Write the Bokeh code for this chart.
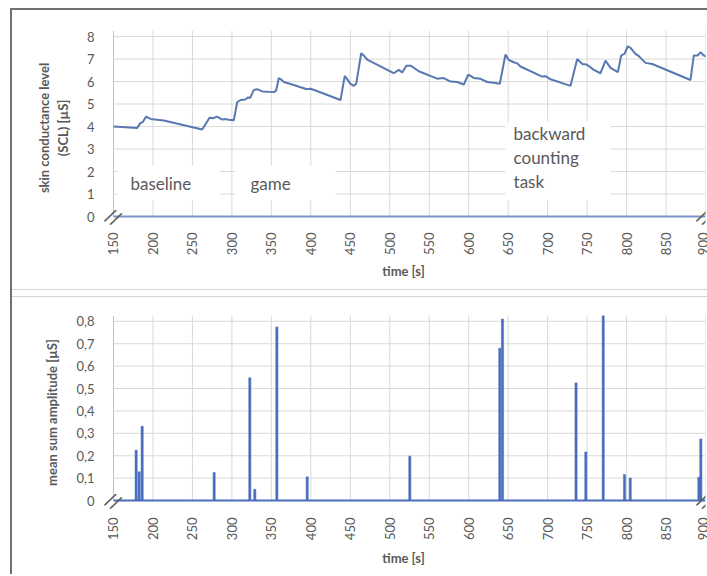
from math import pi
from bokeh.plotting import figure
from bokeh.layouts import column
from bokeh.models import FixedTicker, Label, Range1d
from bokeh.embed import file_html
from bokeh.resources import INLINE

# ---------------- data ----------------
x_ticks = [150, 200, 250, 300, 350, 400, 450, 500, 550, 600, 650, 700, 750, 800, 850, 900]

scl_time = [150, 180, 184, 187, 191.4, 197, 213.7, 262.4,
            271.6, 275.8, 281.4, 287.7, 292, 296, 302.4,
            306.7, 311, 317, 320.7, 323, 327.8, 332, 338.4,
            353, 356, 359.5, 362, 365.8, 376.4, 387, 395.4, 399.6, 406,
            437.6, 443, 450.3, 454.5, 457.5, 463.8, 467, 471.4,
            505, 511.5, 515.7, 521, 527, 536.8,
            560, 567.7, 577, 585.4, 593.8, 599.4, 606.5, 615, 623.5, 631.8, 639.4,
            646.6, 650.8, 657.2, 661.4, 665.6,
            693, 697.3, 703.7, 729, 737.5, 743.8, 749.3, 758.5, 767, 773.3, 779.7, 789,
            793.2, 797.4, 801.6, 805, 811.3, 815.5, 824, 832.5,
            881, 885.2, 890, 893.6, 897.9, 902]
scl_value = [4.0, 3.94, 4.15, 4.2, 4.44, 4.34, 4.27, 3.87,
             4.39, 4.37, 4.44, 4.31, 4.33, 4.3, 4.28,
             5.08, 5.18, 5.2, 5.3, 5.26, 5.63, 5.66, 5.56,
             5.53, 5.6, 6.16, 6.1, 5.98, 5.87, 5.75, 5.66, 5.68, 5.6,
             5.18, 6.25, 5.9, 5.81, 5.9, 7.26, 7.16, 6.98,
             6.37, 6.52, 6.4, 6.7, 6.7, 6.46,
             6.13, 6.16, 6.0, 5.98, 5.87, 6.31, 6.16, 6.12, 5.98, 5.95, 5.9,
             7.2, 6.96, 6.86, 6.81, 6.67,
             6.22, 6.24, 6.1, 5.81, 7.0, 6.78, 6.76, 6.52, 6.37, 6.93, 6.61, 6.42,
             7.16, 7.23, 7.57, 7.5, 7.23, 7.13, 6.83, 6.78,
             6.07, 7.16, 7.16, 7.3, 7.16, 7.1]
scl_ticks = [0, 1, 2, 3, 4, 5, 6, 7, 8]

amp_time = [178.7, 182.5, 186.3, 277.5, 322.7, 329, 357, 395.4, 525.4,
            639.4, 642.8, 736, 748.4, 770.4, 797.4, 804.6, 891.6, 894.1]
amp_value = [0.225, 0.128, 0.332, 0.125, 0.548, 0.05, 0.775, 0.106, 0.198,
             0.68, 0.81, 0.525, 0.217, 0.826, 0.116, 0.101, 0.104, 0.275]
amp_ticks = [0, 0.1, 0.2, 0.3, 0.4, 0.5, 0.6, 0.7, 0.8]
amp_tick_labels = ["0", "0,1", "0,2", "0,3", "0,4", "0,5", "0,6", "0,7", "0,8"]

phase_labels = ["baseline", "game", "backward", "counting", "task"]

# ---------------- style ----------------
FONT = "Lato"
TXT = "#595959"
GRID = "#d9d9d9"
LINE = "#5878b2"
BAR = "#4a6dbf"
XMIN, XMAX = x_ticks[0], x_ticks[-1]
PAD_X = 15.2          # small room left of the axis for the break mark


def base_figure(height, yticks, ymax, pad_y, border_top, border_bottom, xaxis_color):
    p = figure(width=695, height=height, output_backend="svg", toolbar_location=None,
               x_range=Range1d(XMIN - PAD_X, XMAX), y_range=Range1d(-pad_y, ymax),
               min_border_left=89, min_border_right=2,
               min_border_top=border_top, min_border_bottom=border_bottom)
    p.outline_line_color = None
    p.background_fill_color = "white"
    p.border_fill_color = "white"
    p.grid.visible = False
    for ax in (p.xaxis[0], p.yaxis[0]):
        ax.axis_line_color = None
        ax.major_tick_line_color = None
        ax.minor_tick_line_color = None
        ax.major_label_text_font = FONT
        ax.major_label_text_font_size = "13px"
        ax.major_label_text_color = TXT
        ax.axis_label_text_font = FONT
        ax.axis_label_text_font_size = "13px"
        ax.axis_label_text_font_style = "bold"
        ax.axis_label_text_color = TXT
    p.xaxis.ticker = FixedTicker(ticks=x_ticks)
    p.xaxis.major_label_orientation = pi / 2
    p.xaxis.major_label_standoff = 1
    p.xaxis.axis_label = "time [s]"
    p.xaxis.axis_label_standoff = 7
    p.yaxis.ticker = FixedTicker(ticks=yticks)
    p.yaxis.major_label_standoff = 1
    # grid lines (from the tick positions), stopping at the axes
    gx = x_ticks[1:]
    p.segment(x0=gx, x1=gx, y0=[0] * len(gx), y1=[ymax] * len(gx),
              line_color=GRID, line_width=1, level="underlay")
    gy = yticks[1:]
    p.segment(x0=[XMIN] * len(gy), x1=[XMAX] * len(gy), y0=gy, y1=gy,
              line_color=GRID, line_width=1, level="underlay")
    # axis lines
    p.segment(x0=[XMIN], x1=[XMIN], y0=[0], y1=[ymax], line_color="#b4c4dc", line_width=1)
    p.segment(x0=[XMIN], x1=[XMAX], y0=[0], y1=[0], line_color=xaxis_color, line_width=2)
    # axis break marks
    for xv in (XMIN, XMAX):
        p.add_layout(Label(x=xv, y=0, text="//", text_align="center", text_baseline="middle",
                           angle=-0.5, text_font="DejaVu Sans", text_font_size="19px",
                           text_color="#5a5a5a"))
    return p


# top panel
p1 = base_figure(280, scl_ticks, 8.27, 0.4, 20, 65, "#7a96c8")
p1.yaxis.axis_label = "skin conductance level\n(SCL) [µS]"
p1.yaxis.axis_label_standoff = 13
p1.xaxis.axis_label_standoff = 5

# white boxes behind phase annotations
p1.quad(left=[155, 303.5, 646.6], right=[285.6, 431.5, 779.7],
        bottom=[0.71, 0.71, 0.71], top=[2.27, 2.27, 4.2],
        fill_color="white", line_color=None, level="underlay")
p1.line(scl_time, scl_value, line_color=LINE, line_width=2)

label_pos = [(171.5, 1.47), (323.6, 1.47), (656.8, 3.69), (656.8, 2.62), (656.8, 1.56)]
for txt, (lx, ly) in zip(phase_labels, label_pos):
    p1.add_layout(Label(x=lx, y=ly, text=txt, text_align="left", text_baseline="middle",
                        text_font=FONT, text_font_size="17px", text_color=TXT))

# bottom panel
p2 = base_figure(278, amp_ticks, 0.826, 0.04, 18, 66, BAR)
p2.yaxis.major_label_overrides = {t: s for t, s in zip(amp_ticks, amp_tick_labels)}
p2.yaxis.axis_label = "mean sum amplitude [µS]"
p2.yaxis.axis_label_standoff = 13
p2.xaxis.major_label_standoff = 2
p2.vbar(x=amp_time, top=amp_value, width=2.8, bottom=0, fill_color=BAR, line_color=BAR,
        line_width=0.5)

p1.styles = {"border-bottom": "1px solid #d4d4d4"}
p2.styles = {"border-top": "1px solid #d4d4d4"}

layout = column(p1, p2, spacing=6,
                styles={"border-left": "2px solid #707070", "border-top": "2px solid #707070",
                        "margin-left": "10px", "margin-top": "8px"})

open("out.html", "w").write(file_html(layout, INLINE))
